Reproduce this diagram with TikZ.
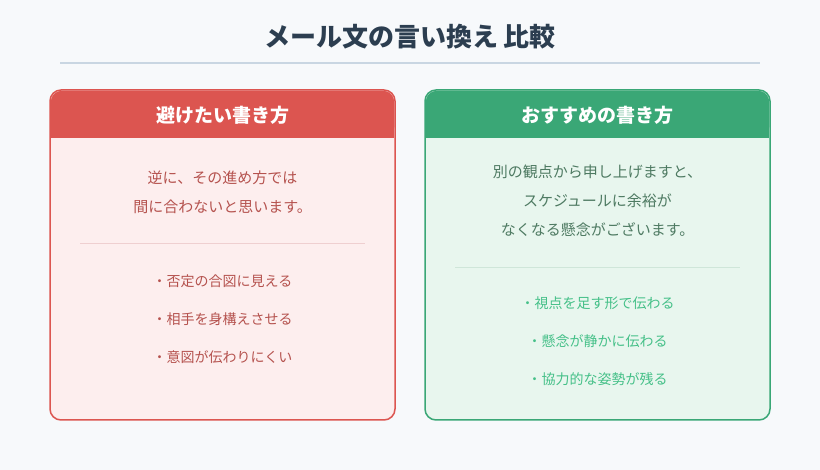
\documentclass[tikz,border=0pt]{standalone}
\usepackage{fontspec}
\newfontfamily\cjk{Noto Sans CJK JP}
\definecolor{bgcol}{HTML}{F7F9FB}
\definecolor{titlecol}{HTML}{2C3E50}
\definecolor{rulecol}{HTML}{C9D6E2}
\definecolor{badcol}{HTML}{DC5550}
\definecolor{badfill}{HTML}{FDEEEE}
\definecolor{badtext}{HTML}{B5524E}
\definecolor{badline}{HTML}{EFCFD0}
\definecolor{goodcol}{HTML}{3AA776}
\definecolor{goodfill}{HTML}{E8F6EE}
\definecolor{goodtext}{HTML}{4E7A62}
\definecolor{goodpt}{HTML}{45C088}
\definecolor{goodline}{HTML}{CFE6D9}
\tikzset{
  card/.style={line width=1.5pt, rounded corners=11pt},
  head/.style={font=\cjk\bfseries\fontsize{19}{22}\selectfont, text=white},
  body/.style={font=\cjk\fontsize{15}{18}\selectfont},
  point/.style={font=\cjk\fontsize{14}{17}\selectfont},
}
\begin{document}
\begin{tikzpicture}[x=1pt,y=-1pt]
    \fill[bgcol] (0,0) rectangle (820,470);
    \useasboundingbox (0,0) rectangle (820,470);

    % Title
    \node[font=\cjk\bfseries\fontsize{26}{30}\selectfont, text=titlecol] (title) at (410,37) {メール文の言い換え 比較};
    \draw[rulecol, line width=1.2pt] (60,63) -- (760,63);

    % Left card
    \draw[card, draw=badcol, fill=badfill] (50,90) rectangle (395,420);
    \fill[badcol, rounded corners=11pt] (50.75,90.75) rectangle (394.25,138);
    \fill[badcol] (50.75,120) rectangle (394.25,138);
    \node[head] (badhead) at (222.5,115) {避けたい書き方};
    \node[body, text=badtext] (bad1) at (222.5,178) {逆に、その進め方では};
    \node[body, text=badtext] (bad2) at (222.5,207) {間に合わないと思います。};
    \draw[badline, line width=1pt] (80,244) -- (365,244);
    \foreach \t [count=\i] in {否定の合図に見える, 相手を身構えさせる, 意図が伝わりにくい}
        \node[point, text=badtext] (badpt\i) at (222.5,243+38*\i) {・\t};

    % Right card
    \draw[card, draw=goodcol, fill=goodfill] (425,90) rectangle (770,420);
    \fill[goodcol, rounded corners=11pt] (425.75,90.75) rectangle (769.25,138);
    \fill[goodcol] (425.75,120) rectangle (769.25,138);
    \node[head] (goodhead) at (597.5,115) {おすすめの書き方};
    \foreach \t [count=\i] in {別の観点から申し上げますと、, スケジュールに余裕が, なくなる懸念がございます。}
        \node[body, text=goodtext] (good\i) at (597.5,143+29*\i) {\t};
    \draw[goodline, line width=1pt] (455,268) -- (740,268);
    \foreach \t [count=\i] in {視点を足す形で伝わる, 懸念が静かに伝わる, 協力的な姿勢が残る}
        \node[point, text=goodpt] (goodpt\i) at (597.5,265+38*\i) {・\t};
\end{tikzpicture}
\end{document}
